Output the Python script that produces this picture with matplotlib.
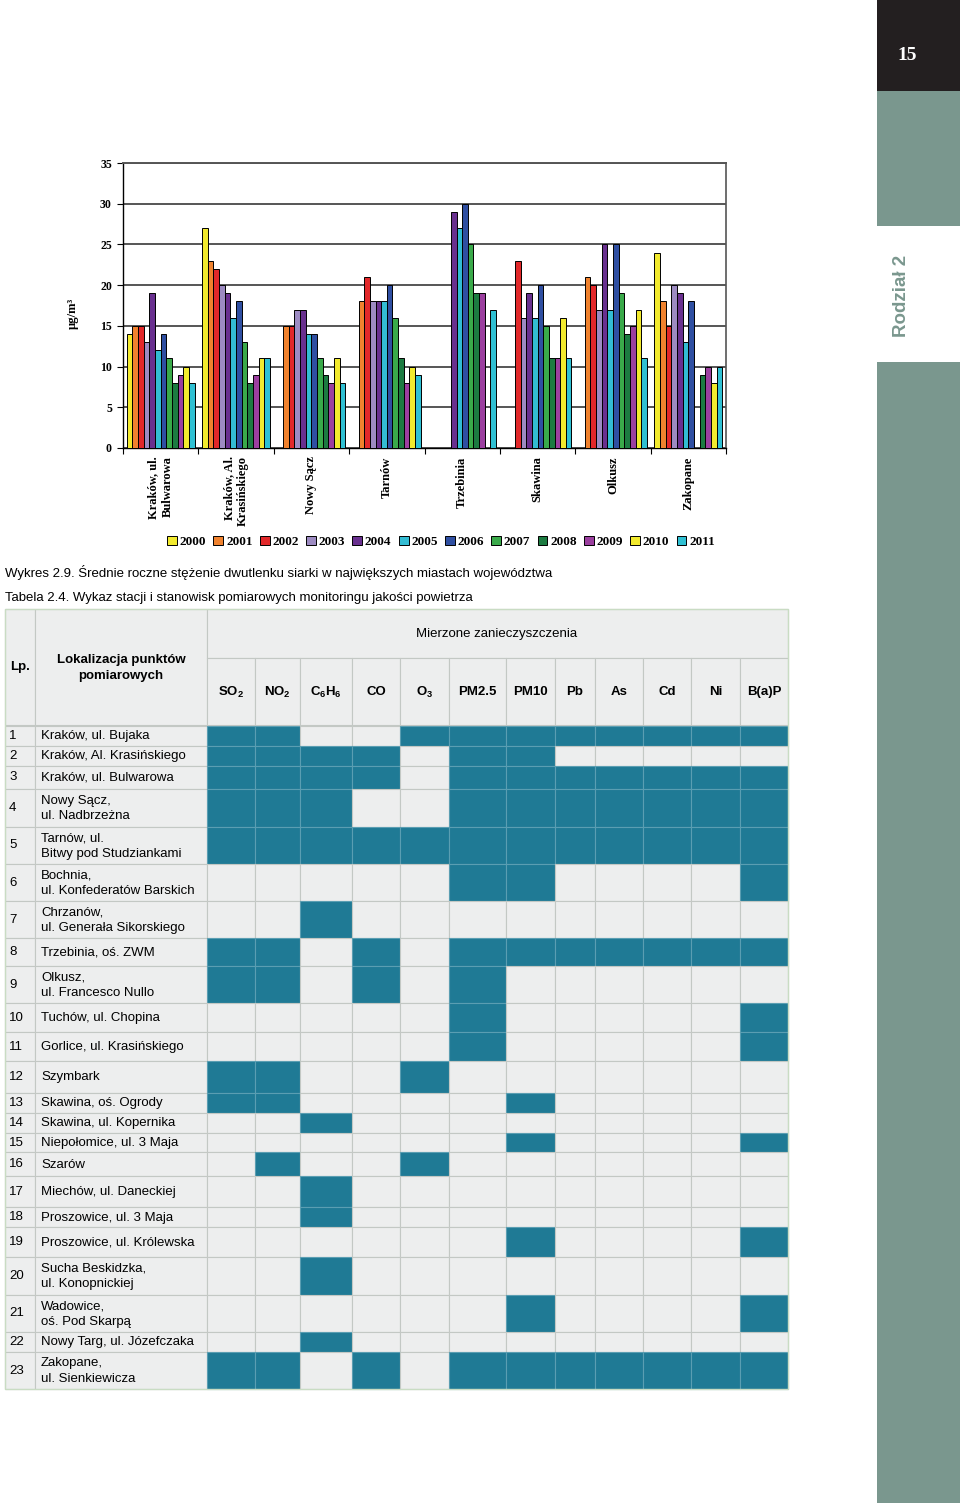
import numpy as np
import matplotlib
matplotlib.use("Agg")
import matplotlib.pyplot as plt
from matplotlib.patches import Rectangle, Patch

plt.rcParams['font.family'] = ['Liberation Sans', 'DejaVu Sans']
plt.rcParams['mathtext.fontset'] = 'custom'
plt.rcParams['mathtext.rm'] = 'Liberation Sans:bold'
plt.rcParams['mathtext.it'] = 'Liberation Sans:bold'
plt.rcParams['mathtext.bf'] = 'Liberation Sans:bold'

W, H = 960, 1503

# ---- chart data (SO2, ug/m3) ----
years = [str(y) for y in range(2000, 2012)]
year_colors = ['#F2EA2E', '#F0822E', '#E2282A', '#9D8BC2', '#69308F', '#33BCD3',
               '#2F4FA2', '#3AAA4A', '#1C7B41', '#9B3F9F', '#F2EA2E', '#2FC0D3']
cities = ['Kraków, ul.\nBulwarowa', 'Kraków, Al.\nKrasińskiego', 'Nowy Sącz', 'Tarnów',
          'Trzebinia', 'Skawina', 'Olkusz', 'Zakopane']
N = None
so2 = [
    [14, 15, 15, 13, 19, 12, 14, 11, 8, 9, 10, 8],
    [27, 23, 22, 20, 19, 16, 18, 13, 8, 9, 11, 11],
    [N, 15, 15, 17, 17, 14, 14, 11, 9, 8, 11, 8],
    [N, 18, 21, 18, 18, 18, 20, 16, 11, 8, 10, 9],
    [N, N, N, N, 29, 27, 30, 25, 19, 19, N, 17],
    [N, N, 23, 16, 19, 16, 20, 15, 11, 11, 16, 11],
    [N, 21, 20, 17, 25, 17, 25, 19, 14, 15, 17, 11],
    [24, 18, 15, 20, 19, 13, 18, N, 9, 10, 8, 10],
]

# ---- table data ----
pollutants = ['SO$_2$', 'NO$_2$', 'C$_6$H$_6$', 'CO', 'O$_3$', 'PM2.5', 'PM10',
              'Pb', 'As', 'Cd', 'Ni', 'B(a)P']
stations = ['Kraków, ul. Bujaka', 'Kraków, Al. Krasińskiego', 'Kraków, ul. Bulwarowa',
            'Nowy Sącz,\nul. Nadbrzeżna', 'Tarnów, ul.\nBitwy pod Studziankami',
            'Bochnia,\nul. Konfederatów Barskich', 'Chrzanów,\nul. Generała Sikorskiego',
            'Trzebinia, oś. ZWM', 'Olkusz,\nul. Francesco Nullo', 'Tuchów, ul. Chopina',
            'Gorlice, ul. Krasińskiego', 'Szymbark', 'Skawina, oś. Ogrody',
            'Skawina, ul. Kopernika', 'Niepołomice, ul. 3 Maja', 'Szarów',
            'Miechów, ul. Daneckiej', 'Proszowice, ul. 3 Maja', 'Proszowice, ul. Królewska',
            'Sucha Beskidzka,\nul. Konopnickiej', 'Wadowice,\noś. Pod Skarpą',
            'Nowy Targ, ul. Józefczaka', 'Zakopane,\nul. Sienkiewicza']
measured = [
    [1, 1, 0, 0, 1, 1, 1, 1, 1, 1, 1, 1],
    [1, 1, 1, 1, 0, 1, 1, 0, 0, 0, 0, 0],
    [1, 1, 1, 1, 0, 1, 1, 1, 1, 1, 1, 1],
    [1, 1, 1, 0, 0, 1, 1, 1, 1, 1, 1, 1],
    [1, 1, 1, 1, 1, 1, 1, 1, 1, 1, 1, 1],
    [0, 0, 0, 0, 0, 1, 1, 0, 0, 0, 0, 1],
    [0, 0, 1, 0, 0, 0, 0, 0, 0, 0, 0, 0],
    [1, 1, 0, 1, 0, 1, 1, 1, 1, 1, 1, 1],
    [1, 1, 0, 1, 0, 1, 0, 0, 0, 0, 0, 0],
    [0, 0, 0, 0, 0, 1, 0, 0, 0, 0, 0, 1],
    [0, 0, 0, 0, 0, 1, 0, 0, 0, 0, 0, 1],
    [1, 1, 0, 0, 1, 0, 0, 0, 0, 0, 0, 0],
    [1, 1, 0, 0, 0, 0, 1, 0, 0, 0, 0, 0],
    [0, 0, 1, 0, 0, 0, 0, 0, 0, 0, 0, 0],
    [0, 0, 0, 0, 0, 0, 1, 0, 0, 0, 0, 1],
    [0, 1, 0, 0, 1, 0, 0, 0, 0, 0, 0, 0],
    [0, 0, 1, 0, 0, 0, 0, 0, 0, 0, 0, 0],
    [0, 0, 1, 0, 0, 0, 0, 0, 0, 0, 0, 0],
    [0, 0, 0, 0, 0, 0, 1, 0, 0, 0, 0, 1],
    [0, 0, 1, 0, 0, 0, 0, 0, 0, 0, 0, 0],
    [0, 0, 0, 0, 0, 0, 1, 0, 0, 0, 0, 1],
    [0, 0, 1, 0, 0, 0, 0, 0, 0, 0, 0, 0],
    [1, 1, 0, 1, 0, 1, 1, 1, 1, 1, 1, 1],
]

# table layout (pixels)
col_edges = [207, 255, 300, 352, 400, 449, 506, 555, 595, 643, 691, 740, 788]
row_heights = [20, 20, 23.6, 37.4, 37.3, 37, 37.3, 27.7, 37.3, 29, 28.4, 32,
               20, 20, 19.6, 23.7, 31.3, 20, 30, 37.7, 37, 20, 37.3]

bg = '#EDEEEE'
teal = '#1F7A95'
grid = '#C3C8C4'

fig = plt.figure(figsize=(W / 100, H / 100), dpi=100)
page = fig.add_axes([0, 0, 1, 1])
page.set_xlim(0, W)
page.set_ylim(H, 0)
page.axis('off')

# side bar
sb = '#7A978E'
page.add_patch(Rectangle((877, 0), 83, 91, facecolor='#231F20', lw=0))
page.add_patch(Rectangle((877, 91), 83, 135, facecolor=sb, lw=0))
page.add_patch(Rectangle((877, 362), 83, H - 362, facecolor=sb, lw=0))
page.text(907, 56, '15', color='white', fontsize=14, fontweight='bold',
          family='Liberation Serif', ha='center', va='center')
page.text(902, 296, 'Rodział 2', color=sb, fontsize=13.5, fontweight='bold',
          rotation=90, ha='center', va='center')

# captions
page.text(5, 573, 'Wykres 2.9. Średnie roczne stężenie dwutlenku siarki w największych miastach województwa',
          fontsize=9.5, va='center')
page.text(5, 598, 'Tabela 2.4. Wykaz stacji i stanowisk pomiarowych monitoringu jakości powietrza',
          fontsize=9.5, va='center')


def cell(x0, x1, y0, y1, fc, ec=grid):
    page.add_patch(Rectangle((x0, y0), x1 - x0, y1 - y0, facecolor=fc, edgecolor=ec, lw=0.8))


# table header
cell(5, 35, 609, 725, bg)
cell(35, 207, 609, 725, bg)
cell(207, 788, 609, 658, bg)
page.text(20, 667, 'Lp.', fontsize=9.5, fontweight='bold', ha='center', va='center')
page.text(121, 668, 'Lokalizacja punktów\npomiarowych', fontsize=9.5, fontweight='bold',
          ha='center', va='center', linespacing=1.4)
page.text(497, 634, 'Mierzone zanieczyszczenia', fontsize=9.5, ha='center', va='center')
for j, name in enumerate(pollutants):
    cell(col_edges[j], col_edges[j + 1], 658, 725, bg)
    page.text((col_edges[j] + col_edges[j + 1]) / 2, 692, name, fontsize=9.5,
              fontweight='bold', ha='center', va='center')

# table body
y = 725.7
for i, name in enumerate(stations):
    h = row_heights[i]
    cell(5, 35, y, y + h, bg)
    cell(35, 207, y, y + h, bg)
    page.text(9, y + h / 2, str(i + 1), fontsize=9.5, va='center')
    page.text(41, y + h / 2 + 0.5, name, fontsize=9.5, va='center', linespacing=1.4)
    for j, flag in enumerate(measured[i]):
        if flag:
            cell(col_edges[j], col_edges[j + 1], y, y + h, teal, '#5A9EB2')
        else:
            cell(col_edges[j], col_edges[j + 1], y, y + h, bg)
    y += h
page.add_patch(Rectangle((5, 609), 783, y - 609, facecolor='none', edgecolor='#C9DCC3', lw=1))

# bar chart
ax = fig.add_axes([123 / W, 1 - 448 / H, (726 - 123) / W, (448 - 163) / H])
xs = np.arange(len(cities))
bw = 0.075
for k, year in enumerate(years):
    vals = np.array([np.nan if row[k] is None else row[k] for row in so2], float)
    ok = ~np.isnan(vals)
    ax.bar(xs[ok] + 0.5 + (k - 5.5) * bw, vals[ok], bw, color=year_colors[k],
           edgecolor='black', lw=0.7, zorder=3)

ax.set_xlim(0, len(cities))
ax.set_ylim(0, 35)
ax.set_yticks(range(0, 36, 5))
ax.set_yticklabels([str(v) for v in range(0, 36, 5)], family='Liberation Serif',
                   fontweight='bold', fontsize=8.5)
ax.yaxis.grid(True, color='#555555', lw=1.4)
ax.set_axisbelow(True)
ax.set_xticks(np.arange(len(cities) + 1))
ax.set_xticklabels([])
ax.set_xticks(xs + 0.5, minor=True)
ax.set_xticklabels(cities, minor=True, rotation=90, ma='right', family='Liberation Serif',
                   fontweight='bold', fontsize=9, linespacing=1.25)
ax.tick_params(axis='x', which='minor', length=0, pad=6)
ax.tick_params(axis='x', which='major', direction='out', length=4, width=0.8)
ax.tick_params(axis='y', direction='out', length=4, width=0.8, pad=4)
for s in ['left', 'bottom']:
    ax.spines[s].set_color('black')
    ax.spines[s].set_linewidth(1.0)
ax.spines['top'].set_color('#555555')
ax.spines['top'].set_linewidth(1.4)
ax.spines['right'].set_color('#555555')
ax.spines['right'].set_linewidth(1.2)

page.text(73, 313, 'µg/m³', rotation=90, family='Liberation Serif', fontweight='bold',
          fontsize=9, ha='center', va='center')

handles = [Patch(facecolor=c, edgecolor='black', lw=0.7) for c in year_colors]
fig.legend(handles, years, loc='center', bbox_to_anchor=(441 / W, 1 - 542 / H), ncol=12,
           frameon=False, handlelength=0.75, handleheight=0.75, handletextpad=0.2,
           columnspacing=0.55, prop={'family': 'Liberation Serif', 'weight': 'bold', 'size': 9.5})

fig.savefig('out.png', dpi=100)
